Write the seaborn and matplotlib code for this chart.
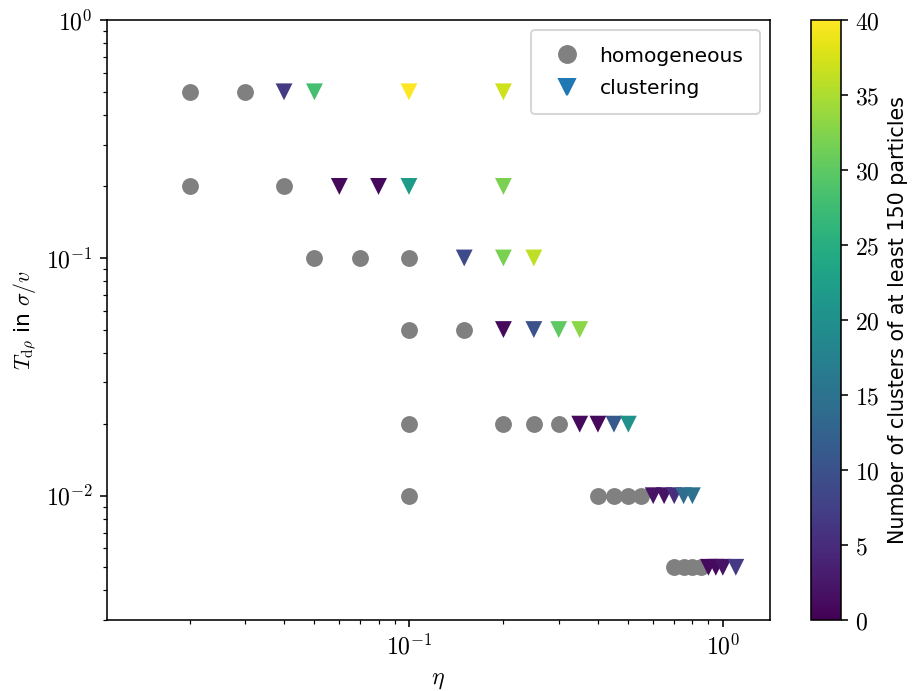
import numpy as np
import pandas as pd
import matplotlib
matplotlib.use("Agg")
import matplotlib.pyplot as plt
from matplotlib.lines import Line2D
from matplotlib.ticker import FuncFormatter, LogLocator, NullFormatter
import seaborn as sns

plt.rcParams['font.family'] = ['DejaVu Sans']
plt.rcParams['mathtext.fontset'] = 'cm'

# homogeneous runs (eta, T)
hom_eta = [0.02, 0.03,
           0.02, 0.04,
           0.05, 0.07, 0.1,
           0.1, 0.15,
           0.1, 0.2, 0.25, 0.3,
           0.1, 0.4, 0.45, 0.5, 0.55,
           0.7, 0.75, 0.8, 0.85]
hom_T = [0.5, 0.5,
         0.2, 0.2,
         0.1, 0.1, 0.1,
         0.05, 0.05,
         0.02, 0.02, 0.02, 0.02,
         0.01, 0.01, 0.01, 0.01, 0.01,
         0.005, 0.005, 0.005, 0.005]

# clustering runs (eta, T, number of clusters)
clu_eta = [0.04, 0.05, 0.1, 0.2,
           0.06, 0.08, 0.1, 0.2,
           0.15, 0.2, 0.25,
           0.2, 0.25, 0.3, 0.35,
           0.35, 0.4, 0.45, 0.5,
           0.6, 0.65, 0.7, 0.75, 0.8,
           0.9, 0.95, 1.0, 1.1]
clu_T = [0.5, 0.5, 0.5, 0.5,
         0.2, 0.2, 0.2, 0.2,
         0.1, 0.1, 0.1,
         0.05, 0.05, 0.05, 0.05,
         0.02, 0.02, 0.02, 0.02,
         0.01, 0.01, 0.01, 0.01, 0.01,
         0.005, 0.005, 0.005, 0.005]
clu_n = [7, 28, 40, 37,
         1, 1, 22, 32,
         9, 32, 36,
         1, 10, 30, 33,
         1, 1, 11, 20,
         2, 2, 5, 14, 15,
         1, 1, 2, 7]

df_hom = pd.DataFrame({'eta': hom_eta, 'T': hom_T})
df_clu = pd.DataFrame({'eta': clu_eta, 'T': clu_T, 'n': clu_n})

fig = plt.figure(figsize=(913 / 143, 691 / 143), dpi=143)
ax = fig.add_axes([0.117, 0.1027, 0.726, 0.868])
cax = fig.add_axes([0.888, 0.1027, 0.033, 0.868])

sns.scatterplot(data=df_hom, x='eta', y='T', color='gray', marker='o',
                s=72, linewidth=0, ax=ax, legend=False)
sns.scatterplot(data=df_clu, x='eta', y='T', hue='n', palette='viridis',
                hue_norm=(0, 40), marker='v', s=72, linewidth=0, ax=ax,
                legend=False)

ax.set_xscale('log')
ax.set_yscale('log')
ax.set_xlim(0.0109, 1.41)
ax.set_ylim(0.003, 1)

pow10 = FuncFormatter(lambda v, p: r'$10^{%d}$' % round(np.log10(v)))
for axis in (ax.xaxis, ax.yaxis):
    axis.set_major_locator(LogLocator(base=10))
    axis.set_major_formatter(pow10)
    axis.set_minor_formatter(NullFormatter())
ax.tick_params(labelsize=12)
ax.set_xlabel(r'$\eta$', fontsize=12)
ax.set_ylabel(r'$T_{\mathrm{d}\rho}$ in $\sigma/v$', fontsize=11)

handles = [
    Line2D([], [], linestyle='none', marker='o', color='gray', markersize=8.5),
    Line2D([], [], linestyle='none', marker='v', color='#1f77b4', markersize=8.5),
]
ax.legend(handles, ['homogeneous', 'clustering'], loc='upper right',
          fontsize=10.2, borderpad=0.8, labelspacing=0.65, handletextpad=0.6)

sm = plt.cm.ScalarMappable(cmap='viridis', norm=plt.Normalize(0, 40))
cb = fig.colorbar(sm, cax=cax)
cb.set_ticks(np.arange(0, 41, 5))
cb.ax.yaxis.set_major_formatter(FuncFormatter(lambda v, p: f'${v:g}$'))
cb.ax.tick_params(labelsize=12)
cb.set_label('Number of clusters of at least 150 particles', fontsize=10.4)

fig.savefig('out.png', dpi=143)
